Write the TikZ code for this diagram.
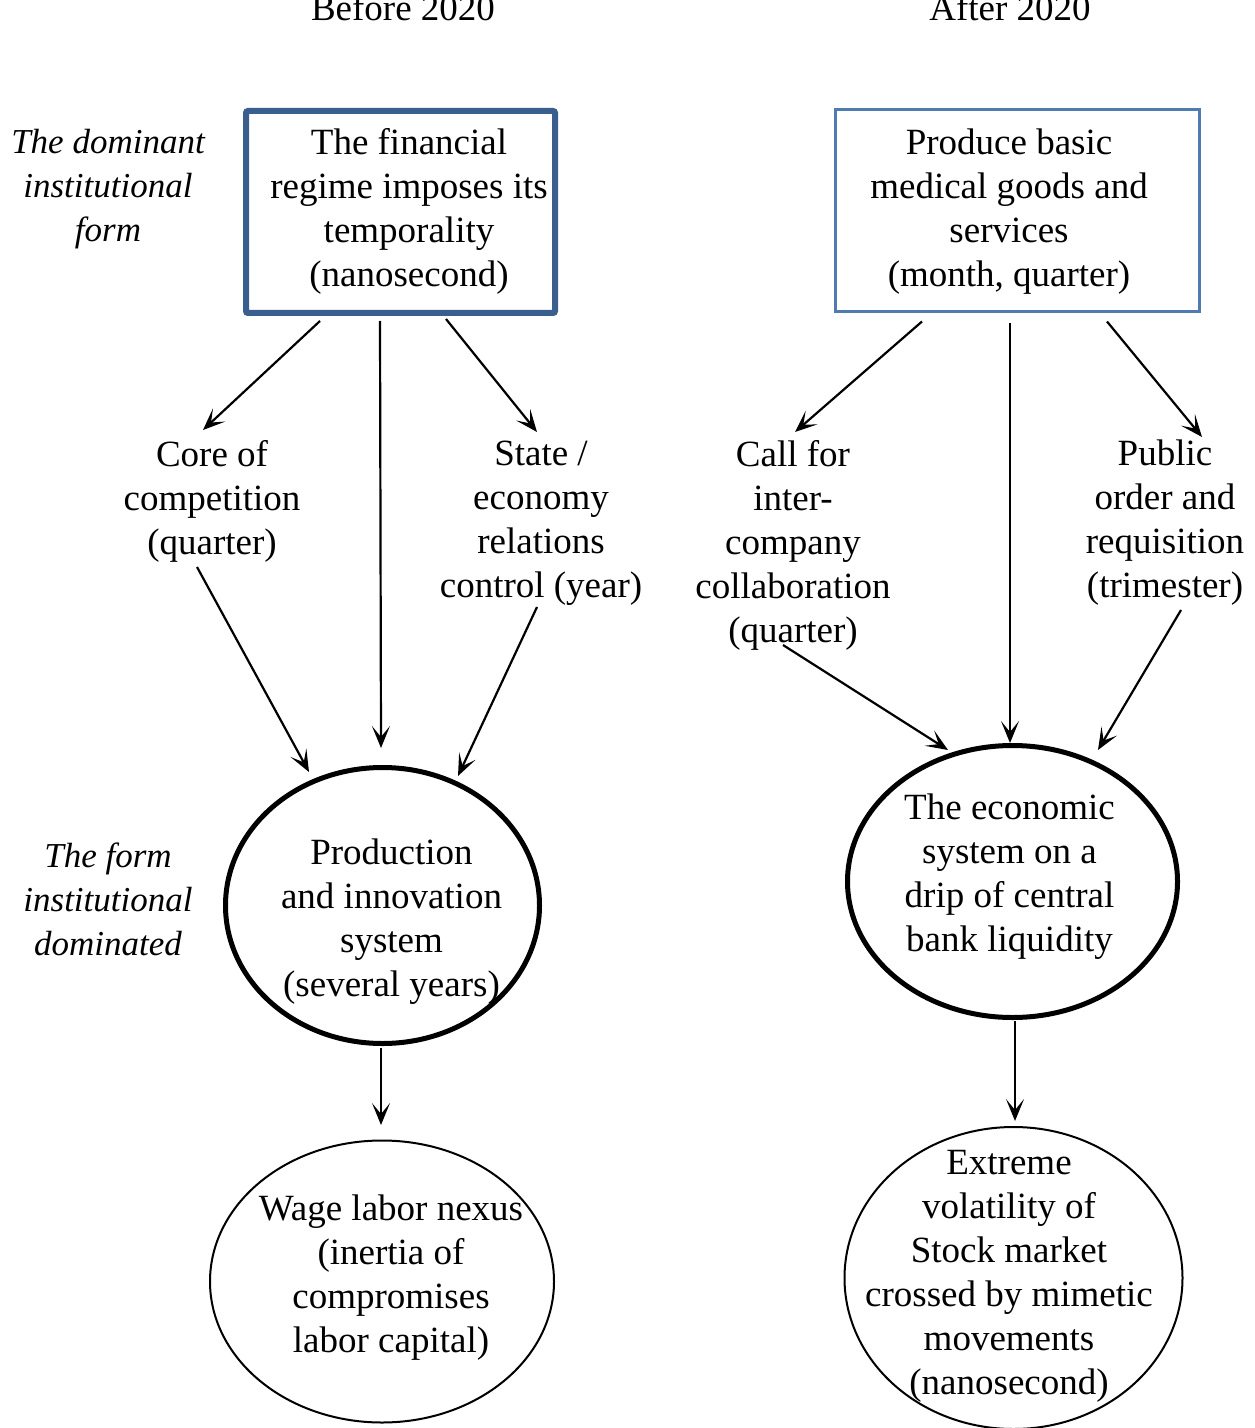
\documentclass[tikz,border=0pt]{standalone}
\usepackage{fontspec}
\setmainfont{Liberation Serif}
\usetikzlibrary{arrows.meta,calc,shapes.geometric}
\definecolor{boxdark}{HTML}{3A5F8E}
\definecolor{boxlight}{HTML}{4F7BB0}
\begin{document}
\begin{tikzpicture}[x=0.5pt,y=-0.5pt,
  txt/.style={align=center,font=\fontsize{18.5}{22}\selectfont,inner sep=0pt},
  side/.style={align=center,font=\fontsize{17.5}{22}\selectfont\itshape,inner sep=0pt},
  head/.style={font=\fontsize{18.5}{22}\selectfont,inner sep=0pt,anchor=base},
  arr/.style={draw=black,line width=1.1pt,-{Stealth[length=11pt,width=9pt,inset=5.5pt,line width=0.8pt]}},
  oval/.style={ellipse,draw=black,inner sep=0pt},
]
\useasboundingbox (0,0) rectangle (1254,1428);

% column headings
\node[head] (hbefore) at (403,21) {Before 2020};
\node[head] (hafter) at (1010,21) {After 2020};

% side labels
\node[side] (sdom) at (108,189) {The dominant\\institutional\\form};
\node[side] (sdomd) at (108,899) {The form\\institutional\\dominated};

% top boxes
\node[draw=boxdark,line width=3pt,rounded corners=1pt,minimum width=154.5pt,minimum height=101pt,inner sep=0pt] (box1) at (400.5,212) {};
\node[txt] (t1) at (409,211) {The financial\\regime imposes its\\temporality\\(nanosecond)};
\node[draw=boxlight,line width=1.5pt,minimum width=182pt,minimum height=101pt,inner sep=0pt] (box2) at (1017.5,210.5) {};
\node[txt] (t2) at (1009,211.5) {Produce basic\\medical goods and\\services\\(month, quarter)};

% intermediate forms
\node[txt] (core) at (212,501) {Core of\\competition\\(quarter)};
\node[txt] (state) at (541,523) {State /\\economy\\relations\\control (year)};
\node[txt] (call) at (793,545) {Call for\\inter-\\company\\collaboration\\(quarter)};
\node[txt] (public) at (1165,523) {Public\\order and\\requisition\\(trimester)};

% dominated forms
\node[oval,line width=2.5pt,minimum width=157pt,minimum height=138pt] (ell1) at (382.5,905.5) {};
\node[txt] (t3) at (391.5,921.5) {Production\\and innovation\\system\\(several years)};
\node[oval,line width=2.5pt,minimum width=165pt,minimum height=136pt] (ell2) at (1012.5,881.5) {};
\node[txt] (t4) at (1009.5,876.5) {The economic\\system on a\\drip of central\\bank liquidity};
\node[oval,line width=1pt,minimum width=172pt,minimum height=141pt] (ell3) at (382,1281.5) {};
\node[txt] (t5) at (391,1277.5) {Wage labor nexus\\(inertia of\\compromises\\labor capital)};
\node[oval,line width=1pt,minimum width=169pt,minimum height=151pt] (ell4) at (1013.5,1278) {};
\node[txt] (t6) at (1009,1276.5) {Extreme\\volatility of\\Stock market\\crossed by mimetic\\movements\\(nanosecond)};

% connectors, left column
\draw[arr] ($(box1.south)+(-80.5,5)$) -- ($(core)+(-9,-71)$);
\draw[arr] ($(box1.south)+(-20.5,5)$) -- ($(ell1)+(-1.5,-157.5)$);
\draw[arr] ($(box1.south)+(45.5,3)$) -- ($(state)+(-4,-91)$);
\draw[arr] ($(core)+(-15,66)$) -- ($(ell1)+(-73.5,-133.5)$);
\draw[arr] ($(state)+(-4,84)$) -- ($(ell1)+(75.5,-129.5)$);
\draw[arr] ($(ell1)+(-1.5,142.5)$) -- ($(ell3)+(-1,-156.5)$);

% connectors, right column
\draw[arr] ($(box2.south)+(-95.5,8.5)$) -- ($(call)+(2,-113)$);
\draw[arr] ($(box2.south)+(-7.5,10.5)$) -- ($(ell2)+(-2.5,-138.5)$);
\draw[arr] ($(box2.south)+(89.5,8.5)$) -- ($(public)+(37,-86)$);
\draw[arr] ($(call)+(-10,100)$) -- ($(ell2)+(-64.5,-131.5)$);
\draw[arr] ($(public)+(16,87)$) -- ($(ell2)+(85.5,-131.5)$);
\draw[arr] ($(ell2)+(2.5,139.5)$) -- ($(ell4)+(1.5,-157)$);
\end{tikzpicture}
\end{document}
